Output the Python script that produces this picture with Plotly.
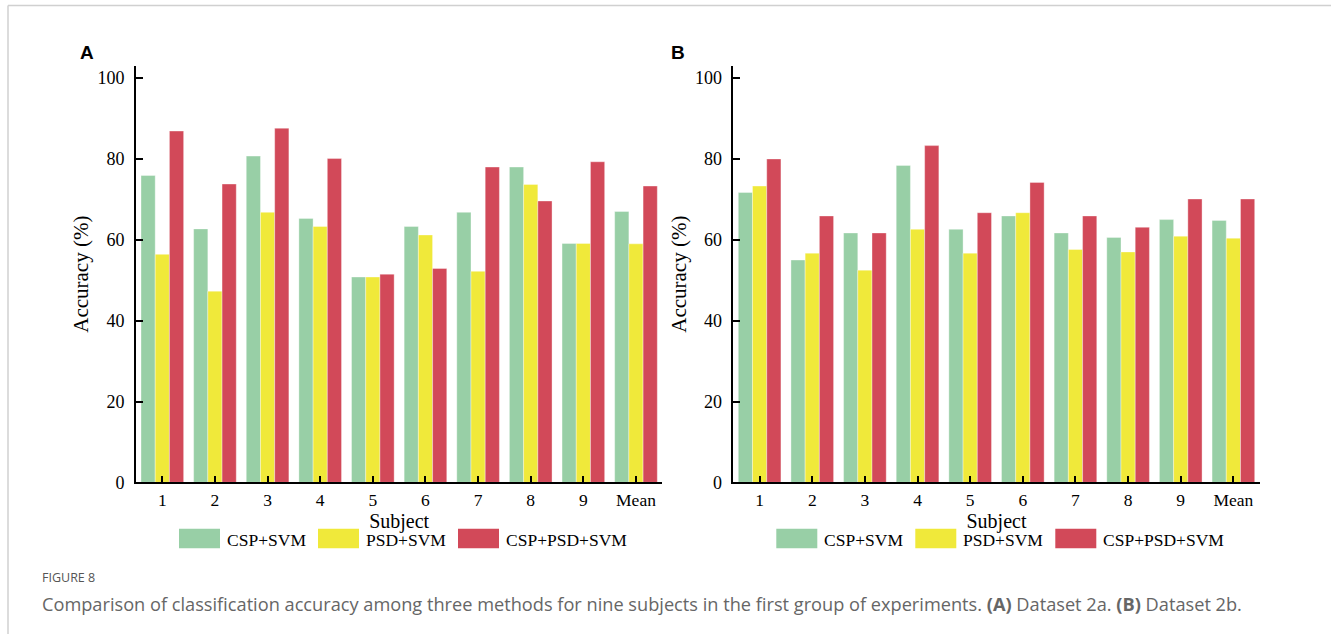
import plotly.graph_objects as go

subjects = ["1", "2", "3", "4", "5", "6", "7", "8", "9", "Mean"]
methods = ["CSP+SVM", "PSD+SVM", "CSP+PSD+SVM"]
colors = ["#98cfa6", "#f0e93a", "#d24959"]

# Panel A: Dataset 2a
a_csp = [75.9, 62.7, 80.7, 65.3, 50.8, 63.3, 66.8, 78.0, 59.1, 67.0]
a_psd = [56.4, 47.3, 66.8, 63.3, 50.8, 61.2, 52.2, 73.7, 59.1, 59.0]
a_all = [86.9, 73.8, 87.6, 80.1, 51.5, 52.9, 78.0, 69.6, 79.3, 73.3]

# Panel B: Dataset 2b
b_csp = [71.7, 55.0, 61.7, 78.4, 62.6, 65.9, 61.7, 60.6, 65.0, 64.8]
b_psd = [73.3, 56.7, 52.5, 62.6, 56.7, 66.7, 57.6, 57.0, 60.9, 60.4]
b_all = [80.0, 65.9, 61.7, 83.3, 66.7, 74.2, 65.9, 63.1, 70.1, 70.1]

y_ticks = [0, 20, 40, 60, 80, 100]

W, H = 1331, 644
fig = go.Figure()

panels = [("x", "y", [a_csp, a_psd, a_all]), ("x2", "y2", [b_csp, b_psd, b_all])]
for xa, ya, series in panels:
    for name, vals, col in zip(methods, series, colors):
        fig.add_trace(go.Bar(x=subjects, y=vals, name=name, xaxis=xa, yaxis=ya,
                             marker=dict(color=col, line=dict(width=0.6, color="rgba(255,255,255,0.6)")),
                             showlegend=False))

serif = "Liberation Serif, Times New Roman, serif"
axis_common = dict(showline=True, linecolor="black", linewidth=1.6, ticks="inside",
                   ticklen=7, tickwidth=1.5, tickcolor="black", showgrid=False,
                   zeroline=False)

ytop = 1 - 67 / H
ybot = 1 - 490 / H
xa_dom = [136 / W, 662.3 / W]
xb_dom = [733.3 / W, 1259.7 / W]

shapes = []
annotations = []

for i, dom in enumerate([xa_dom, xb_dom]):
    sfx = "" if i == 0 else "2"
    fig.update_layout(**{
        "xaxis" + sfx: dict(axis_common, domain=dom, anchor="y" + sfx, type="category",
                            categoryorder="array", categoryarray=subjects,
                            range=[-0.5, 9.5], ticklabelstandoff=1,
                            tickfont=dict(family=serif, size=17.5, color="black"),
                            title=dict(text="Subject", font=dict(family=serif, size=20, color="black"),
                                       standoff=0)),
        "yaxis" + sfx: dict(axis_common, domain=[ybot, ytop], anchor="x" + sfx,
                            range=[0, 103], tickvals=y_ticks, ticklabelstandoff=6,
                            tickfont=dict(family=serif, size=18, color="black"),
                            title=dict(text="Accuracy (%)", font=dict(family=serif, size=21, color="black"),
                                       standoff=3)),
    })

# Panel letters
for txt, xp in [("A", 87), ("B", 678)]:
    annotations.append(dict(text="<b>%s</b>" % txt, x=xp / W, y=1 - 53 / H, xref="paper", yref="paper",
                            showarrow=False, xanchor="center", yanchor="middle",
                            font=dict(family="Liberation Sans, Arial, sans-serif", size=19, color="black")))

# Custom legends (wide swatches)
for x0 in [136, 733.3]:
    offsets = [43, 182, 322]
    for sw, name, col in zip(offsets, methods, colors):
        shapes.append(dict(type="rect", xref="paper", yref="paper",
                           x0=(x0 + sw) / W, x1=(x0 + sw + 41) / W,
                           y0=1 - 557 / H, y1=1 - 537 / H,
                           fillcolor=col, line=dict(width=0)))
        annotations.append(dict(text=name, x=(x0 + sw + 46) / W, y=1 - 549 / H, xref="paper", yref="paper",
                                showarrow=False, xanchor="left", yanchor="middle",
                                font=dict(family=serif, size=17.5, color="black")))

# Frame border
shapes.append(dict(type="line", xref="paper", yref="paper", x0=8 / W, x1=1.0, y0=1 - 5.5 / H, y1=1 - 5.5 / H,
                   line=dict(color="#d0d0d0", width=1.5)))
shapes.append(dict(type="line", xref="paper", yref="paper", x0=8 / W, x1=8 / W, y0=0, y1=1 - 5.5 / H,
                   line=dict(color="#d0d0d0", width=1.5)))

# Caption
sans = "Open Sans, Noto Sans, sans-serif"
annotations.append(dict(text="FIGURE 8", x=40 / W, y=1 - 587 / H, xref="paper", yref="paper",
                        showarrow=False, xanchor="left", yanchor="middle",
                        font=dict(family=sans, size=12.5, color="#555555")))
annotations.append(dict(text="Comparison of classification accuracy among three methods for nine subjects in the first "
                             "group of experiments. <b>(A)</b> Dataset 2a. <b>(B)</b> Dataset 2b.",
                        x=40 / W, y=1 - 614 / H, xref="paper", yref="paper",
                        showarrow=False, xanchor="left", yanchor="middle",
                        font=dict(family=sans, size=18.2, color="#666666")))

fig.update_layout(width=W, height=H, margin=dict(l=0, r=0, t=0, b=0),
                  paper_bgcolor="white", plot_bgcolor="white",
                  barmode="group", bargap=0.19, bargroupgap=0,
                  shapes=shapes, annotations=annotations)

fig.write_html("out.html", config={"displayModeBar": False},
               post_script="document.body.style.margin='0px';document.body.style.overflow='hidden';")
